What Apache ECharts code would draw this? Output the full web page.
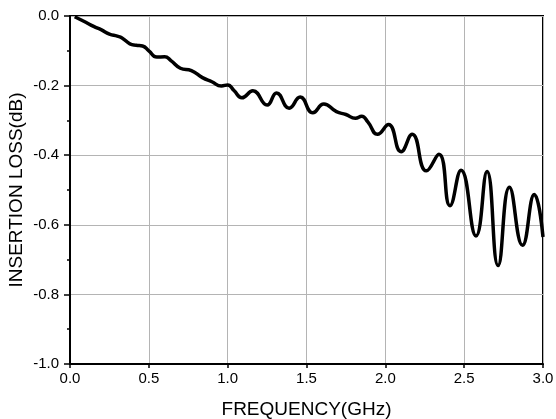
<!DOCTYPE html>
<html>
<head>
<meta charset="utf-8">
<script src="https://cdn.jsdelivr.net/npm/echarts@6/dist/echarts.min.js"></script>
<style>
  html, body { margin: 0; padding: 0; background: #fff; }
  #chart { width: 556px; height: 419px; }
</style>
</head>
<body>
<div id="chart"></div>
<script>
// Measured insertion loss of the filter versus frequency
const frequencyGHz = [
  0.03, 0.10, 0.15, 0.20, 0.25, 0.30, 0.33, 0.38, 0.42, 0.46,
  0.50, 0.55, 0.60, 0.64, 0.70, 0.77, 0.84, 0.90, 0.96, 1.00,
  1.04, 1.09, 1.16, 1.25, 1.31, 1.39, 1.46, 1.54, 1.61, 1.69,
  1.75, 1.81, 1.85, 1.89, 1.95, 2.02, 2.10, 2.17, 2.26, 2.34,
  2.41, 2.48, 2.575, 2.645, 2.715, 2.787, 2.87, 2.945, 3.0
];
const insertionLossDb = [
  -0.002, -0.018, -0.030, -0.040, -0.052, -0.058, -0.063, -0.080, -0.084, -0.086,
  -0.100, -0.118, -0.117, -0.128, -0.150, -0.157, -0.177, -0.189, -0.201, -0.198,
  -0.214, -0.235, -0.215, -0.256, -0.221, -0.265, -0.233, -0.278, -0.253, -0.275,
  -0.283, -0.294, -0.288, -0.305, -0.340, -0.312, -0.390, -0.340, -0.445, -0.397,
  -0.545, -0.443, -0.632, -0.447, -0.717, -0.492, -0.659, -0.513, -0.635
];
const xTicks = { min: 0, max: 3.0, step: 0.5 };
const yTicks = { min: -1.0, max: 0.0, step: 0.2 };

const fontFamily = '"Liberation Sans", Arial, sans-serif';
const points = frequencyGHz.map((f, i) => [f, insertionLossDb[i]]);

const chart = echarts.init(document.getElementById('chart'), null, { renderer: 'canvas' });
chart.setOption({
  animation: false,
  backgroundColor: '#ffffff',
  grid: {
    left: 70, top: 16, right: 13, bottom: 55,
    outerBoundsMode: 'none',
    containLabel: false,
    show: true, borderColor: '#000', borderWidth: 2, backgroundColor: 'transparent'
  },
  xAxis: {
    type: 'value',
    min: xTicks.min, max: xTicks.max, interval: xTicks.step,
    name: 'FREQUENCY(GHz)',
    nameLocation: 'middle', nameGap: 36, nameMoveOverlap: false,
    nameTextStyle: { color: '#000', fontSize: 19, fontFamily },
    axisLine: { onZero: false, lineStyle: { color: '#000', width: 2 } },
    axisTick: { show: true, inside: false, length: 4, lineStyle: { color: '#000', width: 1.5 } },
    axisLabel: { color: '#000', fontSize: 15, fontFamily, margin: 7,
      formatter: v => v.toFixed(1) },
    splitLine: { show: true, lineStyle: { color: '#b4b4b4', width: 1 } }
  },
  yAxis: {
    type: 'value',
    min: yTicks.min, max: yTicks.max, interval: yTicks.step,
    name: 'INSERTION LOSS(dB)',
    nameLocation: 'middle', nameGap: 44, nameMoveOverlap: false,
    nameTextStyle: { color: '#000', fontSize: 19, fontFamily },
    axisLine: { onZero: false, lineStyle: { color: '#000', width: 2 } },
    axisTick: { show: true, inside: false, length: 6, lineStyle: { color: '#000', width: 1.5 } },
    minorTick: { show: true, splitNumber: 2, length: 3, lineStyle: { color: '#000', width: 1.5 } },
    axisLabel: { color: '#000', fontSize: 15, fontFamily, margin: 11,
      formatter: v => v.toFixed(1) },
    splitLine: { show: true, lineStyle: { color: '#b4b4b4', width: 1 } }
  },
  series: [{
    type: 'line',
    data: points,
    smooth: 0.5,
    showSymbol: false,
    lineStyle: { color: '#000', width: 3.5 },
    clip: true
  }]
});
</script>
</body>
</html>
